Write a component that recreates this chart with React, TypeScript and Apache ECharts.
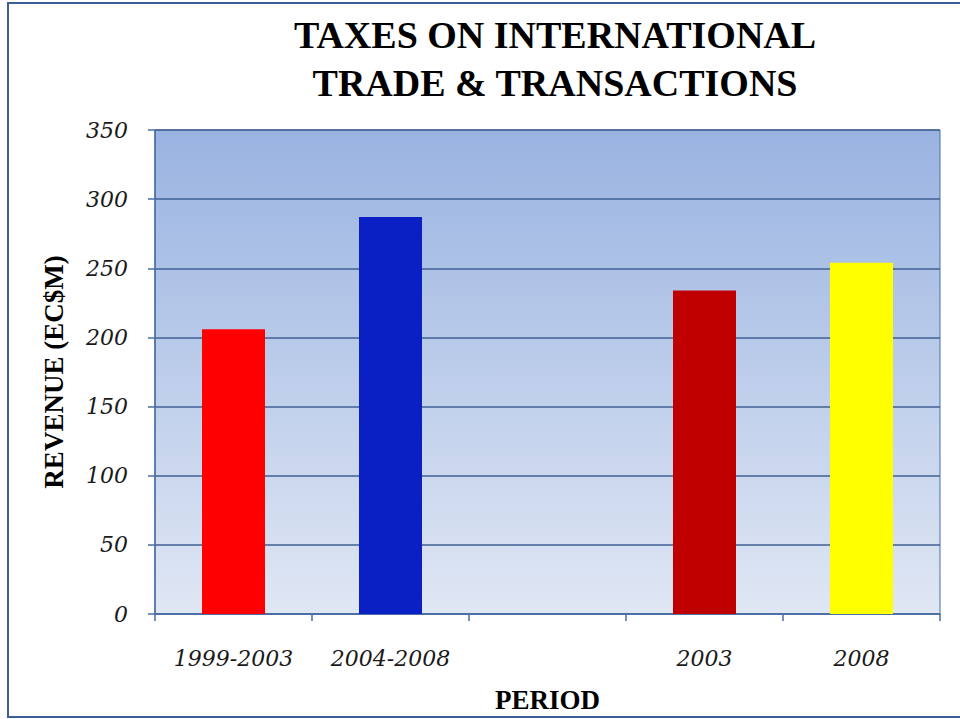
import React, { useEffect, useRef } from "react";
import * as echarts from "echarts";

const titleLines = ["TAXES ON INTERNATIONAL", "TRADE & TRANSACTIONS"];
const categories = ["1999-2003", "2004-2008", "", "2003", "2008"];
const revenue: (number | null)[] = [206, 287, null, 234, 254];
const barColors = ["#ff0000", "#0a1fc4", "#ffffff", "#c00000", "#ffff00"];
const yTicks = { min: 0, max: 350, interval: 50 };
const yName = "REVENUE (EC$M)";
const xName = "PERIOD";

export default function App() {
  const ref = useRef<HTMLDivElement>(null);
  useEffect(() => {
    document.body.style.margin = "0";
    if (!ref.current) return;
    const chart = echarts.init(ref.current, null, { renderer: "svg" });
    const serif = "'DejaVu Serif', 'Liberation Serif', serif";
    chart.setOption({
      animation: false,
      backgroundColor: "#ffffff",
      title: {
        text: titleLines.join("\n"),
        left: 550,
        textAlign: "center",
        top: 6,
        textStyle: {
          fontFamily: "'Liberation Serif', serif",
          fontWeight: "bold",
          fontSize: 38,
          lineHeight: 48,
          color: "#000",
        },
      },
      graphic: [
        {
          type: "rect",
          shape: { x: 8, y: 3, width: 980, height: 714 },
          style: { fill: "none", stroke: "#3d5f95", lineWidth: 2 },
          z: 0,
        },
      ],
      grid: {
        left: 155,
        right: 20,
        top: 130,
        bottom: 105,
        show: true,
        borderColor: "#4a6fa5",
        borderWidth: 1,
        backgroundColor: new echarts.graphic.LinearGradient(0, 0, 0, 1, [
          { offset: 0, color: "#99b3e1" },
          { offset: 1, color: "#e0e7f4" },
        ]),
        outerBoundsMode: "none",
      },
      xAxis: {
        type: "category",
        data: categories,
        name: xName,
        nameLocation: "middle",
        nameGap: 72,
        nameTextStyle: {
          fontFamily: "'Liberation Serif', serif",
          fontWeight: "bold",
          fontSize: 27,
          color: "#000",
        },
        axisLine: { lineStyle: { color: "#4a6fa5", width: 1.5 } },
        axisTick: { show: true, length: 7, lineStyle: { color: "#4a6fa5", width: 1.5 } },
        axisLabel: {
          fontFamily: serif,
          fontStyle: "italic",
          fontSize: 22,
          color: "#1a1a1a",
          margin: 33,
        },
      },
      yAxis: {
        type: "value",
        min: yTicks.min,
        max: yTicks.max,
        interval: yTicks.interval,
        name: yName,
        nameLocation: "middle",
        nameGap: 88,
        nameTextStyle: {
          fontFamily: "'Liberation Serif', serif",
          fontWeight: "bold",
          fontSize: 27,
          color: "#000",
        },
        axisLine: { show: true, lineStyle: { color: "#4a6fa5", width: 1.5 } },
        axisTick: { show: true, length: 7, lineStyle: { color: "#4a6fa5", width: 1.5 } },
        axisLabel: {
          fontFamily: serif,
          fontStyle: "italic",
          fontSize: 22,
          color: "#1a1a1a",
          margin: 27,
        },
        splitLine: { show: true, lineStyle: { color: "#3f5f92", width: 1.5 } },
      },
      series: [
        {
          type: "bar",
          barWidth: 63,
          data: revenue.map((v, i) => ({
            value: v,
            itemStyle: { color: barColors[i] },
          })),
        },
      ],
    });
    return () => chart.dispose();
  }, []);
  return <div ref={ref} style={{ width: 960, height: 719 }} />;
}
